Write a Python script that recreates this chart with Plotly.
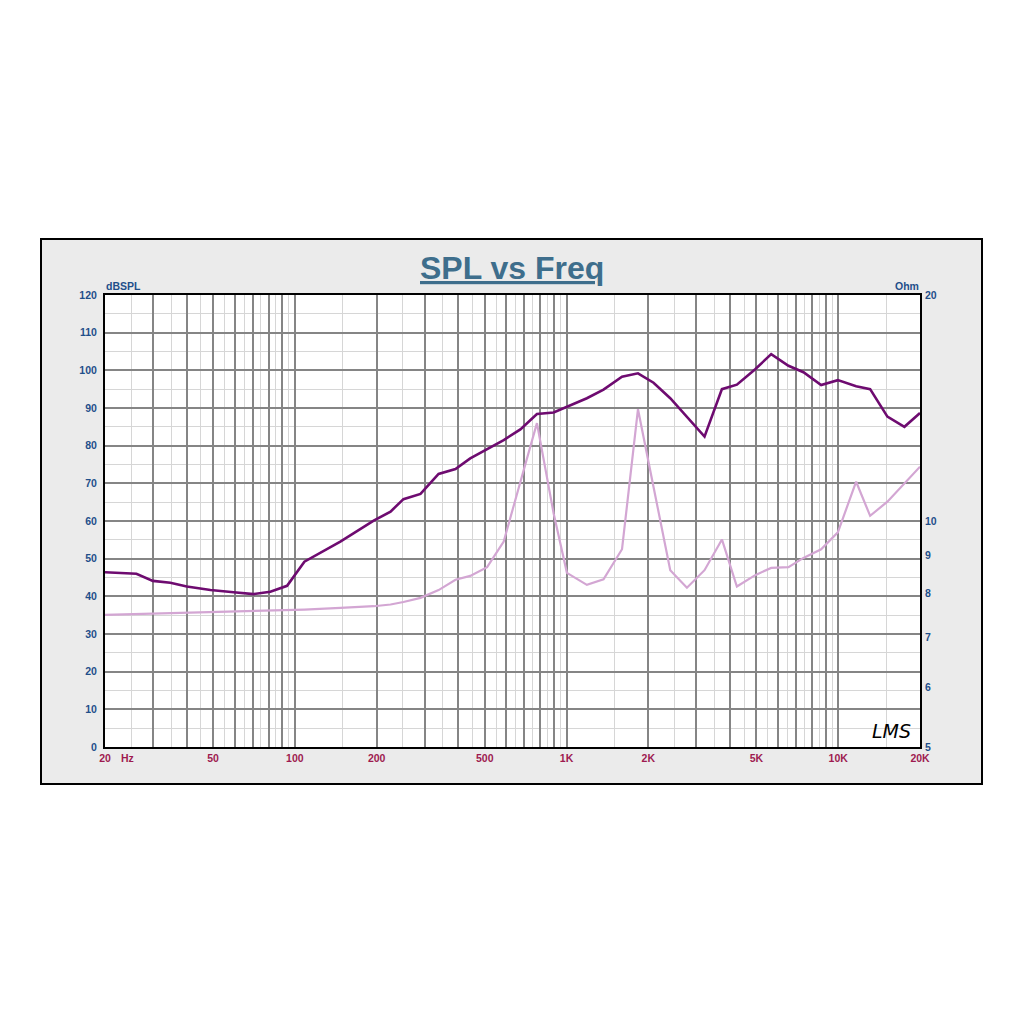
import plotly.graph_objects as go

# ---- data ----
freq_hz = [20, 26.1, 30, 34.8, 40, 48.9, 59.5, 70.5, 81.2, 93.6, 108.4, 147, 195, 225, 251,
           290, 338, 390, 442, 510, 587, 676, 778, 896, 1003, 1188, 1368, 1600, 1832, 2090,
           2408, 2774, 3220, 3732, 4236, 4948, 5666, 6560, 7448, 8652, 9968, 11640, 13106,
           15172, 17524, 20000]
spl_db = [46.4, 46.0, 44.1, 43.6, 42.6, 41.7, 41.1, 40.6, 41.2, 42.8, 49.2, 54.5, 60.1, 62.5, 65.8,
          67.2, 72.5, 73.8, 76.6, 79.1, 81.5, 84.3, 88.4, 88.8, 90.3, 92.6, 94.9, 98.3, 99.2, 96.7,
          92.6, 87.7, 82.4, 95.0, 96.2, 100.3, 104.3, 101.2, 99.5, 96.1, 97.4, 95.8, 95.0,
          87.7, 85.0, 88.7]
impedance_ohm = [7.50, 7.52, 7.53, 7.54, 7.55, 7.56, 7.57, 7.58, 7.59, 7.60, 7.62, 7.66, 7.70, 7.74, 7.80,
                 7.90, 8.09, 8.35, 8.45, 8.68, 9.39, 11.27, 13.5, 10.24, 8.53, 8.22, 8.36, 9.17, 14.09, 11.1,
                 8.60, 8.15, 8.60, 9.45, 8.18, 8.47, 8.66, 8.68, 8.93, 9.17, 9.66, 11.28, 10.16,
                 10.61, 11.23, 11.81]

x_major = [20, 30, 40, 50, 60, 70, 80, 90, 100, 200, 300, 400, 500, 600, 700, 800, 900,
           1000, 2000, 3000, 4000, 5000, 6000, 7000, 8000, 9000, 10000, 20000]
x_major_text = ["20", "", "", "50", "", "", "", "", "100", "200", "", "", "500", "", "", "", "",
                "1K", "2K", "", "", "5K", "", "", "", "", "10K", "20K"]
x_minor = [25, 35, 45, 55, 65, 75, 85, 95, 150, 250, 350, 450, 550, 650, 750, 850, 950,
           1500, 2500, 3500, 4500, 5500, 6500, 7500, 8500, 9500, 15000]
ohm_ticks = [5, 6, 7, 8, 9, 10, 20]

FONT = "Liberation Sans, Arial, sans-serif"
BLUE = "#1f4f8a"
MAROON = "#9e1a50"

fig = go.Figure()
fig.add_trace(go.Scatter(x=freq_hz, y=impedance_ohm, mode="lines", yaxis="y2",
                         line=dict(color="#d3a6d3", width=2.2), name="Impedance"))
fig.add_trace(go.Scatter(x=freq_hz, y=spl_db, mode="lines", yaxis="y",
                         line=dict(color="#6e0b70", width=2.6), name="SPL"))

# page body has an 8px margin; figure is sized so the page is 1024x1024
OFF = 8
W = H = 1024 - 2 * OFF
L = 105 - OFF
R = W - (920 - OFF)
T = 295 - OFF
B = H - (747 - OFF)
pw, ph = W - L - R, H - T - B

def px(x):
    return (x - OFF - L) / pw

def py(y):
    return (H - B - (y - OFF)) / ph

fig.update_layout(
    width=W, height=H,
    margin=dict(l=L, r=R, t=T, b=B, pad=0),
    paper_bgcolor="white", plot_bgcolor="white",
    showlegend=False,
    font=dict(family=FONT),
    xaxis=dict(type="log", range=[1.30103, 4.30103], tickmode="array",
               tickvals=x_major, ticktext=x_major_text,
               tickfont=dict(color=MAROON, size=10.5, family=FONT, weight="bold"),
               showgrid=True, gridcolor="#858585", gridwidth=1.6,
               minor=dict(tickmode="array", tickvals=x_minor, showgrid=True,
                          gridcolor="#d6d6d6", gridwidth=1.4),
               showline=True, linecolor="black", linewidth=2, mirror=True,
               ticks="", zeroline=False, ticklabelstandoff=0),
    yaxis=dict(range=[0, 120], tickmode="linear", tick0=0, dtick=10,
               tickfont=dict(color=BLUE, size=10.5, family=FONT, weight="bold"),
               showgrid=True, gridcolor="#858585", gridwidth=1.6,
               minor=dict(dtick=5, showgrid=True, gridcolor="#d6d6d6", gridwidth=1.4),
               showline=True, linecolor="black", linewidth=2, mirror=True,
               ticks="", zeroline=False, ticklabelstandoff=4),
    yaxis2=dict(type="log", range=[0.69897, 1.30103], overlaying="y", side="right",
                tickmode="array", tickvals=ohm_ticks, ticktext=[str(t) for t in ohm_ticks],
                tickfont=dict(color=BLUE, size=10.5, family=FONT, weight="bold"),
                showgrid=False, showline=False, ticks="", zeroline=False,
                ticklabelstandoff=4),
    shapes=[
        dict(type="rect", xref="paper", yref="paper", layer="below",
             x0=px(41), x1=px(982), y0=py(784), y1=py(239),
             fillcolor="#ebebeb", line=dict(color="black", width=2)),
        dict(type="rect", xref="paper", yref="paper", layer="below",
             x0=0, x1=1, y0=0, y1=1, fillcolor="white", line=dict(width=0)),
    ],
    annotations=[
        dict(text="<b><u>SPL vs Freq</u></b>", xref="paper", yref="paper",
             x=px(512), y=py(268), xanchor="center", yanchor="middle", showarrow=False,
             font=dict(size=32, color="#3e6e8c", family=FONT)),
        dict(text="<b>dBSPL</b>", xref="paper", yref="paper", x=px(104), y=py(286),
             xanchor="left", yanchor="middle", showarrow=False,
             font=dict(size=10.5, color=BLUE, family=FONT)),
        dict(text="<b>Ohm</b>", xref="paper", yref="paper", x=px(921), y=py(286),
             xanchor="right", yanchor="middle", showarrow=False,
             font=dict(size=10.5, color=BLUE, family=FONT)),
        dict(text="<b>Hz</b>", xref="paper", yref="paper", x=px(119), y=py(758),
             xanchor="left", yanchor="middle", showarrow=False,
             font=dict(size=10.5, color=MAROON, family=FONT)),
        dict(text="<i>LMS</i>", xref="paper", yref="paper", x=px(891), y=py(731),
             xanchor="center", yanchor="middle", showarrow=False,
             font=dict(size=19, color="black", family="DejaVu Sans, sans-serif")),
    ],
)

fig.write_html("out.html")
